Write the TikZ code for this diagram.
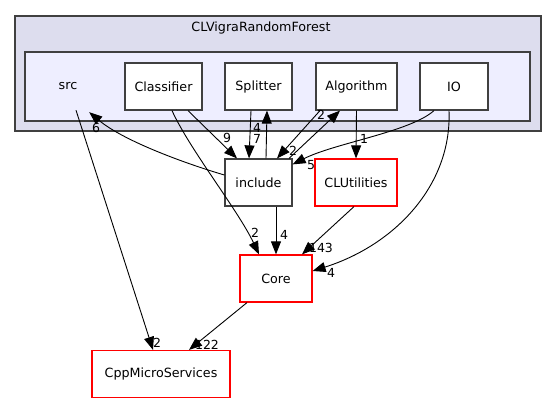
\documentclass[tikz,border=0pt]{standalone}
\usepackage{fontspec}
\setmainfont{DejaVu Sans}
\usetikzlibrary{arrows.meta,calc}
\definecolor{outerfill}{HTML}{DDDDEE}
\definecolor{innerfill}{HTML}{EEEEFF}
\definecolor{bordergray}{HTML}{404040}
\definecolor{redborder}{HTML}{FF0000}
\tikzset{
  dirbox/.style={draw=bordergray, line width=1.2pt, fill=white, minimum height=47pt, inner sep=0pt, font=\fontsize{12.7}{14}\selectfont},
  redbox/.style={dirbox, draw=redborder},
  lbl/.style={font=\fontsize{12.5}{14}\selectfont, inner sep=0pt},
  edge/.style={draw=black, line width=0.9pt, -{Triangle[length=13pt,width=10pt]}},
}
\begin{document}
\begin{tikzpicture}[x=1pt,y=-1pt]
\useasboundingbox (0,0) rectangle (557,404);
% clusters
\draw[bordergray, line width=1.2pt, fill=outerfill] (15,16) rectangle (541,131);
\node[lbl, font=\fontsize{12.7}{14}\selectfont] (title) at (261,27.5) {CLVigraRandomForest};
\draw[bordergray, line width=1.2pt, fill=innerfill] (25,52) rectangle (530,121);
\node[lbl, font=\fontsize{12.7}{14}\selectfont, minimum width=60pt, minimum height=47pt] (src) at (68,86.5) {src};
% nodes
\node[dirbox, minimum width=77pt] (classifier) at (163.5,86.5) {Classifier};
\node[dirbox, minimum width=67pt] (splitter) at (258.5,86.5) {Splitter};
\node[dirbox, minimum width=81pt] (algorithm) at (356.5,86.5) {Algorithm};
\node[dirbox, minimum width=68pt] (io) at (454,86.5) {IO};
\node[dirbox, minimum width=67pt] (include) at (258.5,182.5) {include};
\node[redbox, minimum width=82pt] (clutil) at (356,182.5) {CLUtilities};
\node[redbox, minimum width=72pt] (core) at (276,278.5) {Core};
\node[redbox, minimum width=138pt] (cpp) at (161,374) {CppMicroServices};
% edge labels
\node[lbl] (l1) at (157,343) {2};
\node[lbl] (l2) at (96,128) {6};
\node[lbl] (l3) at (227,138) {9};
\node[lbl] (l4) at (255,233) {2};
\node[lbl] (l5) at (257,139) {7};
\node[lbl] (l6) at (257,128) {4};
\node[lbl] (l7) at (293,151) {2};
\node[lbl] (l8) at (321,115) {2};
\node[lbl] (l9) at (364,139) {1};
\node[lbl] (l10) at (311,165) {5};
\node[lbl] (l11) at (331,273) {4};
\node[lbl] (l12) at (284,235) {4};
\node[lbl] (l13) at (321,248) {143};
\node[lbl] (l14) at (207,345) {122};
% edges
\draw[edge] ($(src.south)+(8,0)$) -- ($(cpp.north)+(-8,0)$);
\draw[edge] ($(include.west)+(0,-7.5)$) .. controls (190,165) and (125,142) .. ($(src.south east)+(-9,2)$);
\draw[edge] ($(classifier.south)+(24.5,0)$) -- ($(include.north)+(-21.5,0)$);
\draw[edge] ($(classifier.south)+(8.5,0)$) .. controls (190,150) and (238,210) .. ($(core.north)+(-17,0)$);
\draw[edge] ($(splitter.south)+(-7.5,0)$) -- ($(include.north)+(-9.5,0)$);
\draw[edge] ($(include.north)+(7.5,0)$) -- ($(splitter.south)+(8.5,0)$);
\draw[edge] ($(algorithm.south)+(-36.5,0)$) -- ($(include.north)+(18.5,0)$);
\draw[edge] ($(include.north)+(30.5,0)$) -- ($(algorithm.south)+(-16.5,0)$);
\draw[edge] (algorithm.south) -- (clutil.north);
\draw[edge] ($(io.south)+(-20,0)$) .. controls (410,132) and (335,143) .. ($(include.north east)+(0,6)$);
\draw[edge] ($(io.south)+(-5,0)$) .. controls (452,185) and (395,245) .. ($(core.east)+(0,-7.5)$);
\draw[edge] ($(include.south)+(17.5,0)$) -- (core.north);
\draw[edge] ($(clutil.south)+(-2,0)$) -- ($(core.north)+(26,0)$);
\draw[edge] ($(core.south)+(-29,0)$) -- ($(cpp.north)+(28,0)$);
\end{tikzpicture}
\end{document}
